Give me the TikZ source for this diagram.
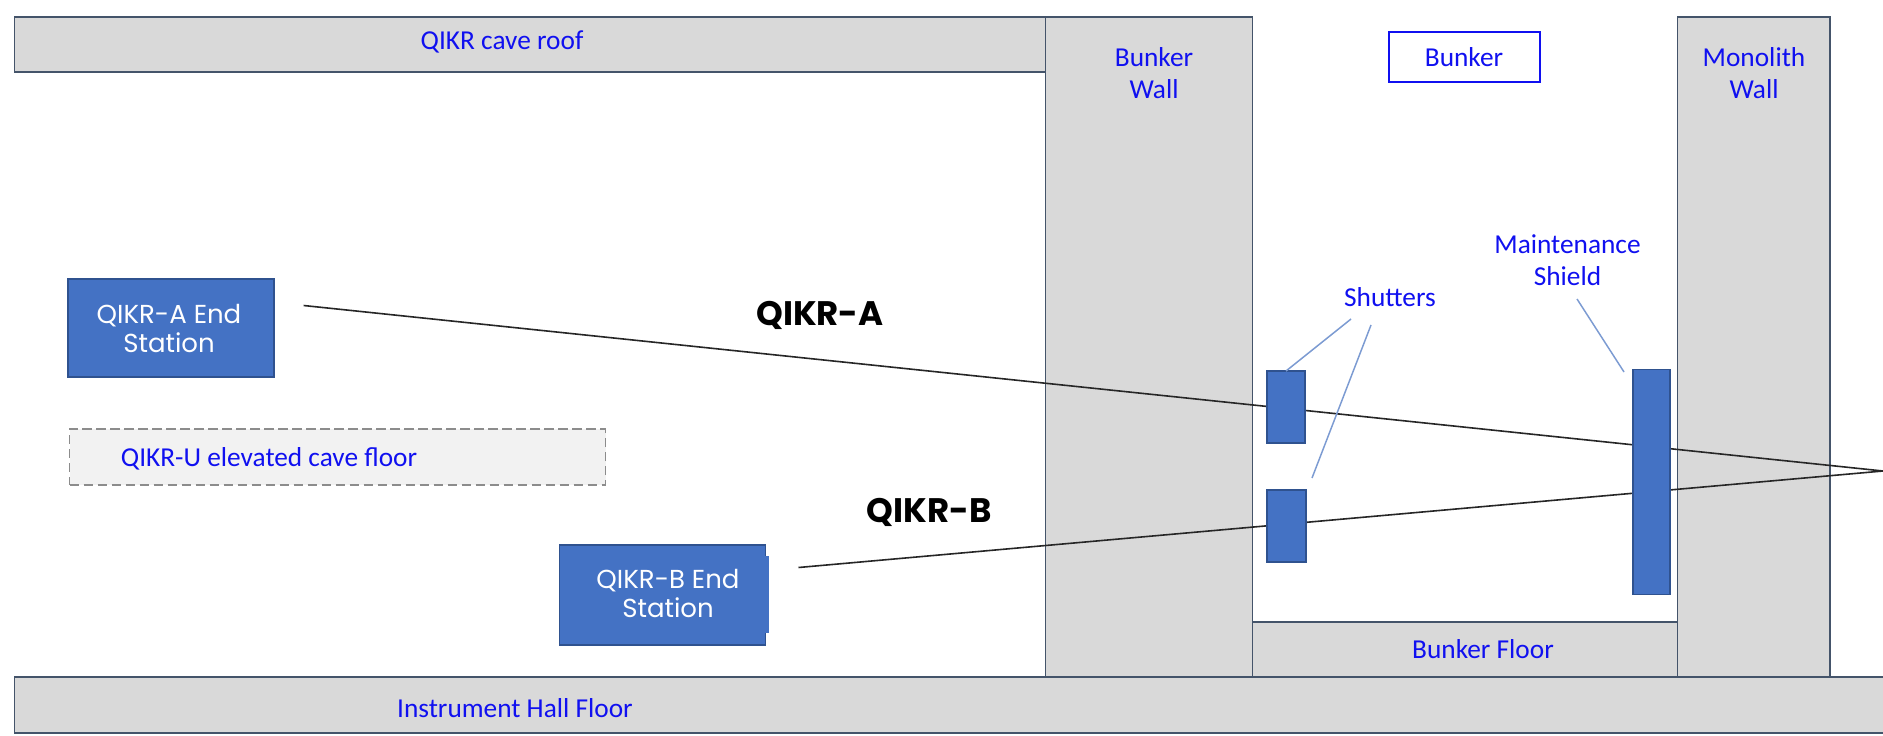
\documentclass[tikz,border=0pt]{standalone}
\usepackage{fontspec}
\setmainfont{Carlito}
\newfontfamily\gothic{Poppins}
\definecolor{wallfill}{HTML}{D9D9D9}
\definecolor{wallline}{HTML}{44546A}
\definecolor{bluefill}{HTML}{4472C4}
\definecolor{blueline}{HTML}{2F528F}
\definecolor{leader}{HTML}{7C9BD2}
\definecolor{labelblue}{HTML}{1010F0}
\tikzset{
  x=0.75pt,y=-0.75pt,
  box/.style={anchor=north west,inner sep=0pt,outer sep=0pt},
  wall/.style={box,draw=wallline,fill=wallfill,line width=1pt},
  blockbox/.style={box,draw=blueline,fill=bluefill,line width=1pt},
  lab/.style={text=labelblue,font=\fontsize{20.5}{24}\selectfont,align=center,inner sep=0pt},
  endlab/.style={text=white,font=\gothic\fontsize{19.5}{21.5}\selectfont,align=center,inner sep=0pt},
  beamname/.style={text=black,font=\gothic\bfseries\fontsize{25.5}{28}\selectfont,inner sep=0pt},
  beam/.style={draw=black!85,line width=1.2pt},
  leaderline/.style={draw=leader,line width=1.1pt},
}
\begin{document}
\begin{tikzpicture}
\useasboundingbox (0,0) rectangle (1883,735);
\fill[white] (0,0) rectangle (1883,735);
% structure
\node[wall,minimum width=1031*0.75pt,minimum height=55*0.75pt] (roof) at (14.5,17) {};
\node[wall,minimum width=207*0.75pt,minimum height=660*0.75pt] (bwall) at (1045.5,17) {};
\node[wall,minimum width=152.5*0.75pt,minimum height=660*0.75pt] (mwall) at (1677.5,17) {};
\node[wall,minimum width=425*0.75pt,minimum height=55*0.75pt] (bfloor) at (1252.5,622) {};
\node[wall,minimum width=1875*0.75pt,minimum height=56*0.75pt] (hall) at (14.5,677) {};
\node[box,draw=labelblue,line width=1pt,minimum width=151*0.75pt,minimum height=50*0.75pt] (bunkerbox) at (1389,32) {};
\node[box,draw=black!45,dash pattern=on 7pt off 3.5pt,fill=black!5,line width=1pt,minimum width=536*0.75pt,minimum height=56*0.75pt] (ufloor) at (69.5,429) {};
% beams
\coordinate (astart) at (303.6,305.5);
\coordinate (bstart) at (798.5,567.5);
\coordinate (apex) at (1883,471);
\draw[beam] (astart) -- (apex);
\draw[beam] (bstart) -- (apex);
% blocks
\node[blockbox,minimum width=206*0.75pt,minimum height=98*0.75pt] (enda) at (68,279) {};
\node[blockbox,minimum width=206*0.75pt,minimum height=100*0.75pt] (endb) at (559.5,545) {};
\fill[bluefill] (760,556) rectangle (769,633);
\node[blockbox,minimum width=38*0.75pt,minimum height=72*0.75pt] (sh1) at (1267,371) {};
\node[blockbox,minimum width=39*0.75pt,minimum height=72*0.75pt] (sh2) at (1267,490) {};
\node[blockbox,minimum width=37*0.75pt,minimum height=225*0.75pt] (ms) at (1633,369.5) {};
% labels
\node[lab] (troof) at (502,42) {QIKR cave roof};
\node[lab] (thall) at (515,708) {Instrument Hall Floor};
\node[lab] (tbwall) at (1154,73) {Bunker\\Wall};
\node[lab] (tbunker) at (1464,57) {Bunker};
\node[lab] (tmwall) at (1754,73) {Monolith\\Wall};
\node[lab] (tfloor) at (1483,649) {Bunker Floor};
\node[lab] (tu) at (269,459) {QIKR-U elevated cave floor};
\node[lab] (tshut) at (1390,297) {Shutters};
\node[lab] (tms) at (1567.5,260) {Maintenance\\Shield};
\node[endlab] (tenda) at (169,328.5) {QIKR-A End\\Station};
\node[endlab] (tendb) at (668,593.5) {QIKR-B End\\Station};
\node[beamname] (na) at (820,315) {QIKR-A};
\node[beamname] (nb) at (929,512) {QIKR-B};
% leaders
\coordinate (l1) at (1351,319);
\coordinate (l2) at (1371,325);
\coordinate (l2e) at (1312,478);
\coordinate (l3) at (1577,299);
\coordinate (l3e) at (1624,372);
\draw[leaderline] (l1) -- (sh1.north);
\draw[leaderline] (l2) -- (l2e);
\draw[leaderline] (l3) -- (l3e);
\end{tikzpicture}
\end{document}
